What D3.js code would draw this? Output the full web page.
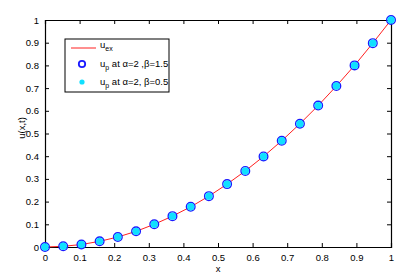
<!DOCTYPE html>
<html>
<head>
<meta charset="utf-8">
<script src="https://cdn.jsdelivr.net/npm/d3@7"></script>
<style>
  body { margin: 0; background: #fff; }
  text { font-family: "Liberation Sans", Arial, sans-serif; }
</style>
</head>
<body>
<div id="chart"></div>
<script>
// data
const xs = [0, 0.0526, 0.1053, 0.1579, 0.2105, 0.2632, 0.3158, 0.3684, 0.4211, 0.4737,
  0.5263, 0.5789, 0.6316, 0.6842, 0.7368, 0.7895, 0.8421, 0.8947, 0.9474, 1]
const uEx = [0, 0.003, 0.011, 0.025, 0.044, 0.069, 0.1, 0.136, 0.177, 0.224,
  0.277, 0.335, 0.399, 0.468, 0.543, 0.623, 0.709, 0.8, 0.898, 1]
const uBeta15 = uEx.slice()
const uBeta05 = uEx.slice()
const xTicks = [0, 0.1, 0.2, 0.3, 0.4, 0.5, 0.6, 0.7, 0.8, 0.9, 1]
const yTicks = [0, 0.1, 0.2, 0.3, 0.4, 0.5, 0.6, 0.7, 0.8, 0.9, 1]

const width = 411
const height = 278
const margin = { top: 20, right: 20, bottom: 31, left: 45 }
const w = width - margin.left - margin.right
const h = height - margin.top - margin.bottom

const svg = d3.select("#chart").append("svg")
  .attr("width", width)
  .attr("height", height)

const g = svg.append("g")
  .attr("transform", "translate(" + margin.left + "," + margin.top + ")")

const x = d3.scaleLinear().domain([0, 1]).range([0, w])
const y = d3.scaleLinear().domain([0, 1]).range([h, 0])

const fmt = d => String(d)

// axes with inward ticks, box style
const axB = g.append("g").attr("transform", "translate(0," + h + ")")
  .call(d3.axisBottom(x).tickValues(xTicks).tickSize(-4).tickPadding(7).tickFormat(fmt))
const axL = g.append("g")
  .call(d3.axisLeft(y).tickValues(yTicks).tickSize(-4).tickPadding(6).tickFormat(fmt))
const axT = g.append("g")
  .call(d3.axisTop(x).tickValues(xTicks).tickSize(-4).tickFormat(""))
const axR = g.append("g").attr("transform", "translate(" + w + ",0)")
  .call(d3.axisRight(y).tickValues(yTicks).tickSize(-4).tickFormat(""))

;[axB, axL, axT, axR].forEach(a => {
  a.select(".domain").attr("stroke", "#000").attr("stroke-width", 1.2)
  a.selectAll(".tick line").attr("stroke", "#000")
  a.selectAll("text").attr("font-size", 9.5).attr("fill", "#000")
    .style("font-family", "'Liberation Sans', Arial, sans-serif")
})

// exact solution line
const line = d3.line().x((d, i) => x(xs[i])).y(d => y(d))
g.append("path")
  .datum(uEx)
  .attr("fill", "none")
  .attr("stroke", "#ff2020")
  .attr("stroke-width", 1)
  .attr("d", line)

// open blue markers
g.selectAll(".m15").data(uBeta15).enter().append("circle")
  .attr("class", "m15")
  .attr("cx", (d, i) => x(xs[i]))
  .attr("cy", d => y(d))
  .attr("r", 4.3)
  .attr("fill", "none")
  .attr("stroke", "#1a1aff")
  .attr("stroke-width", 1.4)

// filled cyan markers
g.selectAll(".m05").data(uBeta05).enter().append("circle")
  .attr("class", "m05")
  .attr("cx", (d, i) => x(xs[i]))
  .attr("cy", d => y(d))
  .attr("r", 3.7)
  .attr("fill", "#10e0ff")

// legend
const lg = svg.append("g").attr("transform", "translate(65,39)")
lg.append("rect").attr("width", 104).attr("height", 53)
  .attr("fill", "#fff").attr("stroke", "#000").attr("stroke-width", 1)

lg.append("line").attr("x1", 6).attr("x2", 31).attr("y1", 9).attr("y2", 9)
  .attr("stroke", "#ff2020").attr("stroke-width", 1)
lg.append("circle").attr("cx", 17).attr("cy", 25).attr("r", 3.2)
  .attr("fill", "none").attr("stroke", "#1a1aff").attr("stroke-width", 1.8)
lg.append("circle").attr("cx", 17).attr("cy", 43).attr("r", 2.6)
  .attr("fill", "#10e0ff")

const t1 = lg.append("text").attr("x", 35).attr("y", 9).attr("font-size", 9.5)
t1.append("tspan").text("u")
t1.append("tspan").attr("dy", 3).attr("font-size", 7).text("ex")

const t2 = lg.append("text").attr("x", 35).attr("y", 28).attr("font-size", 9.5)
t2.append("tspan").text("u")
t2.append("tspan").attr("dy", 3).attr("font-size", 7).text("p")
t2.append("tspan").attr("dy", -3).text(" at α=2 ,β=1.5")

const t3 = lg.append("text").attr("x", 35).attr("y", 46).attr("font-size", 9.5)
t3.append("tspan").text("u")
t3.append("tspan").attr("dy", 3).attr("font-size", 7).text("p")
t3.append("tspan").attr("dy", -3).text(" at α=2, β=0.5")

// axis labels
svg.append("text")
  .attr("x", margin.left + w / 2)
  .attr("y", 272)
  .attr("text-anchor", "middle")
  .attr("font-size", 9.5)
  .text("x")

svg.append("text")
  .attr("transform", "translate(25,128) rotate(-90)")
  .attr("text-anchor", "middle")
  .attr("font-size", 9.5)
  .text("u(x,t)")
</script>
</body>
</html>
